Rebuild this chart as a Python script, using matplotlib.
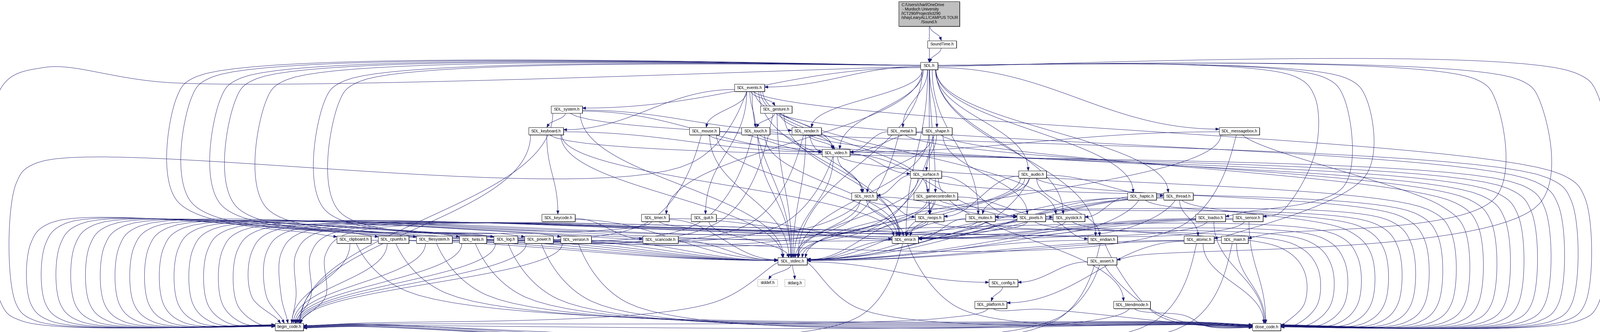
import numpy as np
import matplotlib
matplotlib.use("Agg")
import matplotlib.pyplot as plt
from matplotlib.patches import Rectangle, Polygon
from matplotlib import font_manager

# include graph of Sound.h
W, H = 5496, 1141
EDGE_COLOR = "#191970"

# narrow face like doxygen's Helvetica; plain Liberation Sans at a smaller size otherwise
try:
    font_manager.findfont(font_manager.FontProperties(family="Liberation Sans Narrow"),
                          fallback_to_default=False)
    FONT, FONT_SIZE = ["Liberation Sans Narrow", "DejaVu Sans"], 11.5
except ValueError:
    FONT, FONT_SIZE = ["Liberation Sans", "DejaVu Sans"], 9.8

ROOT = "Sound.h"
ROOT_LINES = ["C:/Users/charl/OneDrive", " - Murdoch University",
              "/ICT290/Project/ict290", "/shayLearyALL/CAMPUS TOUR", "/Sound.h"]

# which header includes which
INCLUDES = [
    ("Sound.h", "SDL.h"), ("Sound.h", "SoundTime.h"), ("SoundTime.h", "SDL.h"),
]
SDL_H_INCLUDES = ["SDL_main.h", "SDL_stdinc.h", "SDL_assert.h", "SDL_atomic.h", "SDL_audio.h",
                  "SDL_clipboard.h", "SDL_cpuinfo.h", "SDL_endian.h", "SDL_error.h", "SDL_events.h",
                  "SDL_filesystem.h", "SDL_gamecontroller.h", "SDL_haptic.h", "SDL_hints.h",
                  "SDL_joystick.h", "SDL_loadso.h", "SDL_log.h", "SDL_messagebox.h", "SDL_metal.h",
                  "SDL_mutex.h", "SDL_power.h", "SDL_render.h", "SDL_rwops.h", "SDL_sensor.h",
                  "SDL_shape.h", "SDL_system.h", "SDL_thread.h", "SDL_timer.h", "SDL_version.h",
                  "SDL_video.h"]
OTHER_INCLUDES = {
    "SDL_main.h": ["SDL_stdinc.h"],
    "SDL_stdinc.h": ["SDL_config.h", "stddef.h", "stdarg.h"],
    "SDL_config.h": ["SDL_platform.h"],
    "SDL_assert.h": ["SDL_config.h"],
    "SDL_atomic.h": ["SDL_stdinc.h", "SDL_platform.h"],
    "SDL_audio.h": ["SDL_stdinc.h", "SDL_error.h", "SDL_endian.h", "SDL_mutex.h", "SDL_thread.h", "SDL_rwops.h"],
    "SDL_error.h": ["SDL_stdinc.h"],
    "SDL_endian.h": ["SDL_stdinc.h"],
    "SDL_mutex.h": ["SDL_stdinc.h", "SDL_error.h"],
    "SDL_thread.h": ["SDL_stdinc.h", "SDL_error.h", "SDL_atomic.h", "SDL_mutex.h"],
    "SDL_rwops.h": ["SDL_stdinc.h", "SDL_error.h"],
    "SDL_clipboard.h": ["SDL_stdinc.h"],
    "SDL_cpuinfo.h": ["SDL_stdinc.h"],
    "SDL_events.h": ["SDL_stdinc.h", "SDL_error.h", "SDL_video.h", "SDL_keyboard.h", "SDL_mouse.h",
                     "SDL_joystick.h", "SDL_gamecontroller.h", "SDL_quit.h", "SDL_gesture.h", "SDL_touch.h"],
    "SDL_video.h": ["SDL_stdinc.h", "SDL_pixels.h", "SDL_rect.h", "SDL_surface.h"],
    "SDL_pixels.h": ["SDL_stdinc.h", "SDL_endian.h"],
    "SDL_rect.h": ["SDL_stdinc.h", "SDL_error.h", "SDL_pixels.h", "SDL_rwops.h"],
    "SDL_surface.h": ["SDL_stdinc.h", "SDL_pixels.h", "SDL_rect.h", "SDL_blendmode.h", "SDL_rwops.h"],
    "SDL_keyboard.h": ["SDL_stdinc.h", "SDL_error.h", "SDL_keycode.h", "SDL_video.h"],
    "SDL_keycode.h": ["SDL_stdinc.h", "SDL_scancode.h"],
    "SDL_scancode.h": ["SDL_stdinc.h"],
    "SDL_mouse.h": ["SDL_stdinc.h", "SDL_error.h", "SDL_video.h"],
    "SDL_joystick.h": ["SDL_stdinc.h", "SDL_error.h"],
    "SDL_gamecontroller.h": ["SDL_stdinc.h", "SDL_error.h", "SDL_rwops.h", "SDL_joystick.h"],
    "SDL_quit.h": ["SDL_stdinc.h", "SDL_error.h"],
    "SDL_gesture.h": ["SDL_stdinc.h", "SDL_error.h", "SDL_video.h", "SDL_touch.h"],
    "SDL_touch.h": ["SDL_stdinc.h", "SDL_error.h", "SDL_video.h"],
    "SDL_filesystem.h": ["SDL_stdinc.h"],
    "SDL_haptic.h": ["SDL_stdinc.h", "SDL_error.h", "SDL_joystick.h"],
    "SDL_hints.h": ["SDL_stdinc.h"],
    "SDL_loadso.h": ["SDL_stdinc.h", "SDL_error.h"],
    "SDL_log.h": ["SDL_stdinc.h"],
    "SDL_messagebox.h": ["SDL_stdinc.h", "SDL_video.h"],
    "SDL_metal.h": ["SDL_video.h"],
    "SDL_power.h": ["SDL_stdinc.h"],
    "SDL_render.h": ["SDL_stdinc.h", "SDL_rect.h", "SDL_video.h"],
    "SDL_sensor.h": ["SDL_stdinc.h", "SDL_error.h"],
    "SDL_shape.h": ["SDL_stdinc.h", "SDL_pixels.h", "SDL_rect.h", "SDL_surface.h", "SDL_video.h"],
    "SDL_system.h": ["SDL_stdinc.h", "SDL_keyboard.h", "SDL_render.h", "SDL_video.h"],
    "SDL_timer.h": ["SDL_stdinc.h", "SDL_error.h"],
    "SDL_version.h": ["SDL_stdinc.h"],
}
# headers wrapped in begin_code.h / close_code.h
WRAPPED = ["SDL.h", "SDL_main.h", "SDL_stdinc.h", "SDL_platform.h", "SDL_assert.h", "SDL_atomic.h",
           "SDL_audio.h", "SDL_error.h", "SDL_endian.h", "SDL_mutex.h", "SDL_thread.h", "SDL_rwops.h",
           "SDL_clipboard.h", "SDL_cpuinfo.h", "SDL_events.h", "SDL_video.h", "SDL_pixels.h",
           "SDL_rect.h", "SDL_surface.h", "SDL_blendmode.h", "SDL_keyboard.h", "SDL_mouse.h",
           "SDL_joystick.h", "SDL_gamecontroller.h", "SDL_gesture.h", "SDL_touch.h",
           "SDL_filesystem.h", "SDL_haptic.h", "SDL_hints.h", "SDL_loadso.h", "SDL_log.h",
           "SDL_messagebox.h", "SDL_metal.h", "SDL_power.h", "SDL_render.h", "SDL_sensor.h",
           "SDL_shape.h", "SDL_system.h", "SDL_timer.h", "SDL_version.h"]

INCLUDES += [("SDL.h", t) for t in SDL_H_INCLUDES]
for src, targets in OTHER_INCLUDES.items():
    INCLUDES += [(src, t) for t in targets]
INCLUDES += [(s, "begin_code.h") for s in WRAPPED]
INCLUDES += [(s, "close_code.h") for s in WRAPPED]

# ---------------- layout (graphviz ranks, box x-extent in pixels) ----------------
RANK_Y = [47.5, 152, 226.5, 301.5, 376, 450.5, 525, 599.5, 674.5, 748.5, 823.5, 897.5, 972.5, 1047.5, 1123.5]
BOX_H = 25
LAYOUT = {
    "Sound.h": (3087, 3296, 0), "SoundTime.h": (3186, 3285, 1), "SDL.h": (3162, 3221, 2),
    "SDL_events.h": (2523, 2626, 3),
    "SDL_system.h": (1893, 2000, 4), "SDL_gesture.h": (2612, 2720, 4),
    "SDL_keyboard.h": (1816, 1935, 5), "SDL_mouse.h": (2368, 2471, 5), "SDL_touch.h": (2547, 2644, 5),
    "SDL_render.h": (2720, 2821, 5), "SDL_metal.h": (3049, 3146, 5), "SDL_shape.h": (3169, 3270, 5),
    "SDL_messagebox.h": (4188, 4326, 5),
    "SDL_video.h": (2824, 2919, 6),
    "SDL_surface.h": (3127, 3234, 7), "SDL_audio.h": (3499, 3594, 7),
    "SDL_rect.h": (2925, 3012, 8), "SDL_gamecontroller.h": (3139, 3289, 8),
    "SDL_haptic.h": (3873, 3972, 8), "SDL_thread.h": (3997, 4098, 8),
    "SDL_keycode.h": (1861, 1975, 9), "SDL_timer.h": (2203, 2298, 9), "SDL_quit.h": (2374, 2460, 9),
    "SDL_rwops.h": (3144, 3242, 9), "SDL_mutex.h": (3317, 3418, 9), "SDL_pixels.h": (3493, 3591, 9),
    "SDL_joystick.h": (3617, 3726, 9), "SDL_loadso.h": (4107, 4209, 9), "SDL_sensor.h": (4235, 4338, 9),
    "SDL_clipboard.h": (1157, 1274, 10), "SDL_cpuinfo.h": (1299, 1404, 10),
    "SDL_filesystem.h": (1430, 1553, 10), "SDL_hints.h": (1578, 1671, 10), "SDL_log.h": (1696, 1778, 10),
    "SDL_power.h": (1802, 1900, 10), "SDL_version.h": (1926, 2031, 10), "SDL_scancode.h": (2208, 2329, 10),
    "SDL_error.h": (3064, 3154, 10), "SDL_endian.h": (3737, 3838, 10), "SDL_atomic.h": (4067, 4170, 10),
    "SDL_main.h": (4195, 4287, 10),
    "SDL_stdinc.h": (2672, 2772, 11), "SDL_assert.h": (3735, 3836, 11),
    "stddef.h": (2603, 2671, 12), "stdarg.h": (2696, 2765, 12), "SDL_config.h": (3397, 3496, 12),
    "SDL_platform.h": (3348, 3458, 13), "SDL_blendmode.h": (3825, 3951, 13),
    "begin_code.h": (945, 1042, 14), "close_code.h": (4302, 4399, 14),
}
SYSTEM_HEADERS = ["stddef.h", "stdarg.h"]

LEFT_LANES = ["SDL.h", "SDL_events.h", "SDL_gesture.h", "SDL_mouse.h", "SDL_touch.h", "SDL_render.h",
              "SDL_metal.h", "SDL_shape.h", "SDL_messagebox.h", "SDL_video.h", "SDL_surface.h",
              "SDL_audio.h", "SDL_rect.h", "SDL_gamecontroller.h", "SDL_haptic.h", "SDL_thread.h",
              "SDL_timer.h", "SDL_rwops.h", "SDL_mutex.h", "SDL_pixels.h", "SDL_joystick.h",
              "SDL_loadso.h", "SDL_sensor.h"]
RIGHT_LANES = ["SDL.h", "SDL_events.h", "SDL_system.h", "SDL_gesture.h", "SDL_keyboard.h", "SDL_mouse.h",
               "SDL_touch.h", "SDL_render.h", "SDL_metal.h", "SDL_shape.h", "SDL_messagebox.h",
               "SDL_video.h", "SDL_surface.h", "SDL_audio.h", "SDL_rect.h", "SDL_gamecontroller.h",
               "SDL_haptic.h", "SDL_thread.h", "SDL_timer.h", "SDL_rwops.h", "SDL_mutex.h",
               "SDL_pixels.h", "SDL_joystick.h"]
BEGIN_FROM_RIGHT = ["SDL_stdinc.h", "SDL_error.h", "SDL_platform.h", "SDL_assert.h", "SDL_endian.h",
                    "SDL_blendmode.h", "SDL_atomic.h", "SDL_main.h"]
CLOSE_FROM_LEFT = ["SDL_clipboard.h", "SDL_cpuinfo.h", "SDL_filesystem.h", "SDL_hints.h", "SDL_log.h",
                   "SDL_power.h", "SDL_version.h", "SDL_stdinc.h", "SDL_error.h", "SDL_platform.h",
                   "SDL_assert.h", "SDL_endian.h", "SDL_blendmode.h"]
SDL_LEFT_GROUP = {"SDL_clipboard.h": 608, "SDL_cpuinfo.h": 658, "SDL_filesystem.h": 758,
                  "SDL_hints.h": 810, "SDL_log.h": 915, "SDL_power.h": 1115, "SDL_version.h": 1165}
SDL_RIGHT_GROUP = {"SDL_sensor.h": (4516, 530), "SDL_loadso.h": (4616, 640), "SDL_atomic.h": (4693, 600),
                   "SDL_main.h": (5136, 680), "SDL_assert.h": (5288, 700)}


def box(name):
    x0, x1, r = LAYOUT[name]
    if name == ROOT:
        return x0, x1, 5, 90
    y0 = RANK_Y[r] - BOX_H / 2
    return x0, x1, y0, y0 + BOX_H


def catmull(points, d0, d1, n=30):
    """centripetal catmull-rom through the points, with end tangents d0/d1"""
    pts = [np.array(p, float) for p in points]
    first = pts[0] - np.array(d0, float) * 40
    last = pts[-1] + np.array(d1, float) * 40
    ext = [first] + pts + [last]
    out = []
    for i in range(len(pts) - 1):
        p0, p1, p2, p3 = ext[i], ext[i + 1], ext[i + 2], ext[i + 3]
        t0 = 0.0
        t1 = t0 + max(np.linalg.norm(p1 - p0), 1e-3) ** 0.5
        t2 = t1 + max(np.linalg.norm(p2 - p1), 1e-3) ** 0.5
        t3 = t2 + max(np.linalg.norm(p3 - p2), 1e-3) ** 0.5
        t = np.linspace(t1, t2, n)[:, None]
        a1 = (t1 - t) / (t1 - t0) * p0 + (t - t0) / (t1 - t0) * p1
        a2 = (t2 - t) / (t2 - t1) * p1 + (t - t1) / (t2 - t1) * p2
        a3 = (t3 - t) / (t3 - t2) * p2 + (t - t2) / (t3 - t2) * p3
        b1 = (t2 - t) / (t2 - t0) * a1 + (t - t0) / (t2 - t0) * a2
        b2 = (t3 - t) / (t3 - t1) * a2 + (t - t1) / (t3 - t1) * a3
        c = (t2 - t) / (t2 - t1) * b1 + (t - t1) / (t2 - t1) * b2
        out.append(c if i == 0 else c[1:])
    return np.vstack(out)


def bezier(p0, p1, p2, p3, n=60):
    t = np.linspace(0, 1, n)[:, None]
    p0, p1, p2, p3 = (np.array(p, float) for p in (p0, p1, p2, p3))
    return (1 - t) ** 3 * p0 + 3 * (1 - t) ** 2 * t * p1 + 3 * (1 - t) * t ** 2 * p2 + t ** 3 * p3


def default_route(s, t):
    sx0, sx1, sy0, sy1 = box(s)
    tx0, tx1, ty0, ty1 = box(t)
    scx, scy = (sx0 + sx1) / 2, (sy0 + sy1) / 2
    tcx, tcy = (tx0 + tx1) / 2, (ty0 + ty1) / 2
    dx = tcx - scx
    dy = ty0 - sy1
    if abs(dx) > 2.5 * max(dy, 1) and dy < 200:
        sg = 1 if dx > 0 else -1
        start = (sx1 if sg > 0 else sx0, scy + np.clip(dy * 0.05, -6, 6))
        end = (tx0 if sg > 0 else tx1, tcy + np.clip((scy - tcy) * 0.03, -8, 8))
        L = abs(end[0] - start[0]) * 0.4
        return bezier(start, (start[0] + sg * L, start[1]), (end[0] - sg * L, end[1]), end)
    hw_s = (sx1 - sx0) / 2 - 6
    hw_t = (tx1 - tx0) / 2 - 6
    start = (scx + np.clip(dx * 0.06, -hw_s, hw_s), sy1)
    end = (tcx + np.clip(-dx * 0.04, -hw_t, hw_t), ty0)
    k = 0.45 * (end[1] - start[1])
    return bezier(start, (start[0], start[1] + k), (end[0], end[1] - k), end)


def left_lane_route(s, i):
    sx0, sx1, sy0, sy1 = box(s)
    scx, scy = (sx0 + sx1) / 2, (sy0 + sy1) / 2
    lane = 5 + i * (1113 / 22)
    R = 70
    if i == 0:
        pts, d0 = [(sx0, scy + 2), (600, 285), (150, 232), (lane, 300)], (-1, 0)
    else:
        yt = 560 if i == 1 else max(765 + (i - 2) * 2, sy1 + 20)
        pts, d0 = [(scx - 10, sy1), (scx - 200, yt), (lane + R, yt), (lane, yt + R)], (0, 1)
    if lane < 850:
        pts += [(lane, 1045), (lane + 70, 1103 + i * 0.5), (945, 1116 + i * 0.4)]
        d1 = (1, 0)
    else:
        pts += [(lane, 1020), (960 + (lane - 850) * 0.25, 1111)]
        d1 = (0, 1)
    return catmull(pts, d0, d1)


def right_lane_route(s, i):
    sx0, sx1, sy0, sy1 = box(s)
    scx, scy = (sx0 + sx1) / 2, (sy0 + sy1) / 2
    lane = 5490 - i * (1010 / 22)
    R = 80
    if i == 0:
        pts, d0 = [(sx1, scy + 2), (lane - R, 250), (lane, 250 + R)], (1, 0)
    else:
        # long diagonals that bend down into their lane; outer lanes bend higher
        yt = max(600 + (i - 1) * 12, sy1 + 40)
        pts, d0 = [(scx + 10, sy1), (lane - R, yt), (lane, yt + R)], (0.3, 1)
    pts += [(lane, 1045), (lane - 70, 1103 + i * 0.5), (4399, 1116 + i * 0.4)]
    return catmull(pts, d0, (-1, 0))


def begin_from_right(s, j):
    sx0, sx1, sy0, sy1 = box(s)
    scx = (sx0 + sx1) / 2
    if s == "SDL_stdinc.h":
        pts, d0 = [(sx0, sy1 - 8), (2450, 1040)], (-1, 0.4)
    else:
        pts, d0 = [(scx - 8, sy1), (scx - 160, 1085 + j * 4)], (0, 1)
    pts += [(1200, 1112 + j * 1.5), (1042, 1119 + j * 1.2)]
    return catmull(pts, d0, (-1, 0))


def close_from_left(s, k):
    sx0, sx1, sy0, sy1 = box(s)
    scx = (sx0 + sx1) / 2
    if s == "SDL_stdinc.h":
        pts, d0 = [(sx1, sy1 - 8), (2950, 1060)], (1, 0.4)
    else:
        pts, d0 = [(scx + 8, sy1), (scx + 180, min(1000 + k * 7, 1100))], (0, 1)
    pts += [(4150, 1108 + k * 1.2), (4302, 1116 + k * 0.8)]
    return catmull(pts, d0, (1, 0))


def sdl_left_group(t, k):
    sx0, sx1, sy0, sy1 = box("SDL.h")
    tx0, tx1, ty0, ty1 = box(t)
    lane = SDL_LEFT_GROUP[t]
    R = 70
    pts = [(sx0, (sy0 + sy1) / 2 - 2), (lane + R, 262 + k * 3), (lane, 262 + k * 3 + R),
           (lane, 690 + k * 6), (tx0 - 60, 805), (tx0 + 1, ty0 + 3)]
    return catmull(pts, (-1, 0), (1, 0.15))


def sdl_right_group(t, k):
    sx0, sx1, sy0, sy1 = box("SDL.h")
    tx0, tx1, ty0, ty1 = box(t)
    lane, turn = SDL_RIGHT_GROUP[t]
    R = 70
    cy = (ty0 + ty1) / 2
    pts = [(sx1, (sy0 + sy1) / 2 - 2), (lane - R, 262 + k * 3), (lane, 262 + k * 3 + R),
           (lane, turn), (tx1 + 60, cy - 18), (tx1, cy - 4)]
    return catmull(pts, (1, 0), (-1, 0.2))


def route(s, t):
    if t == "begin_code.h":
        if s in LEFT_LANES:
            return left_lane_route(s, LEFT_LANES.index(s))
        if s in BEGIN_FROM_RIGHT:
            return begin_from_right(s, BEGIN_FROM_RIGHT.index(s))
    if t == "close_code.h":
        if s in RIGHT_LANES:
            return right_lane_route(s, RIGHT_LANES.index(s))
        if s in CLOSE_FROM_LEFT:
            return close_from_left(s, CLOSE_FROM_LEFT.index(s))
    if s == "SDL.h" and t in SDL_LEFT_GROUP:
        return sdl_left_group(t, list(SDL_LEFT_GROUP).index(t))
    if s == "SDL.h" and t in SDL_RIGHT_GROUP:
        return sdl_right_group(t, list(SDL_RIGHT_GROUP).index(t))
    return default_route(s, t)


def draw_edge(ax, pts, arrow_len=12, half_w=4.5):
    seg = np.linalg.norm(np.diff(pts, axis=0), axis=1)
    back = np.cumsum(seg[::-1])
    idx = np.searchsorted(back, arrow_len)
    cut = max(len(pts) - 1 - idx, 1)
    tip = pts[-1]
    d = tip - pts[cut - 1]
    d = d / (np.linalg.norm(d) + 1e-9)
    base = tip - d * arrow_len
    line = np.vstack([pts[:cut], base[None, :]])
    nrm = np.array([-d[1], d[0]])
    ax.plot(line[:, 0], line[:, 1], color=EDGE_COLOR, lw=0.85, solid_capstyle="butt", zorder=2)
    ax.add_patch(Polygon([tip, base + nrm * half_w, base - nrm * half_w], closed=True,
                         facecolor=EDGE_COLOR, edgecolor=EDGE_COLOR, lw=0.6, zorder=4))


def label(ax, x, y, text, ha="center"):
    ax.text(x, y, text, ha=ha, va="center", fontsize=FONT_SIZE, family=FONT, color="black", zorder=5)


def draw_node(ax, name):
    x0, x1, y0, y1 = box(name)
    cx, cy = (x0 + x1) / 2, (y0 + y1) / 2
    if name in SYSTEM_HEADERS:
        ax.add_patch(Rectangle((x0, y0), x1 - x0, y1 - y0, facecolor="white",
                               edgecolor="#bfbfbf", lw=1.1, zorder=3))
        label(ax, cx, cy, name)
        return
    face = "#bfbfbf" if name == ROOT else "white"
    ax.add_patch(Rectangle((x0 + 1.5, y0 + 1.5), x1 - x0, y1 - y0, facecolor="#404040",
                           edgecolor="none", zorder=3))
    ax.add_patch(Rectangle((x0, y0), x1 - x0, y1 - y0, facecolor=face,
                           edgecolor="#000000", lw=0.9, zorder=3))
    if name == ROOT:
        for i, line in enumerate(ROOT_LINES):
            y = 17 + i * 14.8
            if i < len(ROOT_LINES) - 1:
                label(ax, x0 + 9, y, line, ha="left")
            else:
                label(ax, cx, y, line)
    else:
        label(ax, cx, cy, name)


fig = plt.figure(figsize=(W / 100, H / 100), dpi=100)
ax = fig.add_axes([0, 0, 1, 1])
ax.set_xlim(0, W)
ax.set_ylim(H, 0)
ax.axis("off")

for s, t in INCLUDES:
    draw_edge(ax, route(s, t))
for name in LAYOUT:
    draw_node(ax, name)

fig.savefig("out.png", dpi=100, facecolor="white")
